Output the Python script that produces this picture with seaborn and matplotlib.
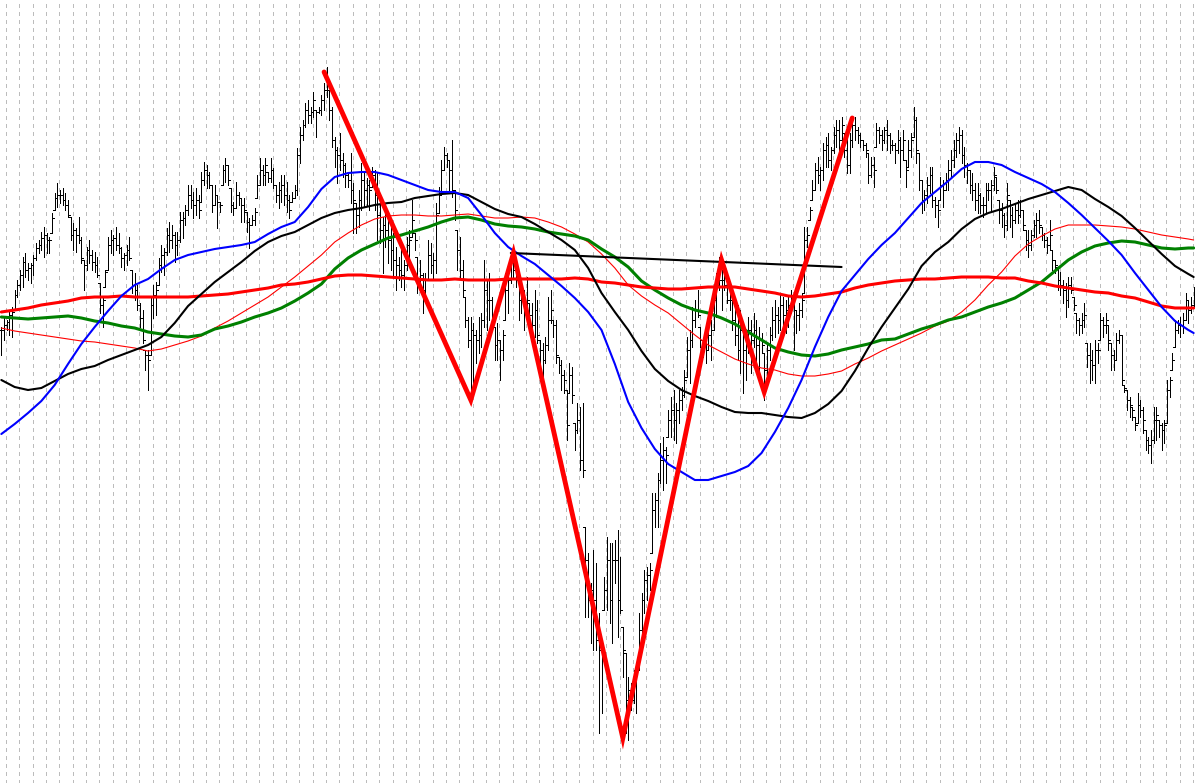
"""
Recreation of a trading-terminal style chart: OHLC bars, five moving
averages, a zigzag overlay and one hand-drawn trendline.
Prices are kept in screen units (0 = top of the chart), as read off the picture.
"""

import numpy as np
import pandas as pd
import matplotlib
matplotlib.use("Agg")
import matplotlib.pyplot as plt
import seaborn as sns

# ---------------------------------------------------------
# 1. Price bars: (high, low, close) per bar, left to right
# ---------------------------------------------------------
seg1 = [(327, 355, 330), (317, 340, 325), (320, 330, 322), (312, 335, 315), (307, 337, 312), (290, 310, 295),
        (280, 297, 285), (270, 290, 275), (257, 287, 262), (253, 277, 270), (263, 280, 268), (263, 283, 265),
        (255, 275, 258), (243, 260, 248), (240, 253, 245), (232, 250, 238), (227, 257, 235), (233, 253, 240),
        (237, 253, 240), (213, 233, 218), (193, 210, 198), (183, 207, 195), (190, 203, 195), (188, 205, 200),
        (193, 210, 205), (200, 217, 215), (217, 240, 235), (223, 250, 230), (228, 252, 235), (217, 243, 240),
        (237, 263, 258), (260, 290, 265), (247, 270, 250), (240, 263, 255), (250, 270, 262), (252, 272, 265),
        (257, 277, 275), (283, 313, 305), (297, 327, 300), (270, 287, 272), (237, 270, 245), (230, 253, 240),
        (235, 255, 238), (227, 250, 245), (233, 253, 248), (247, 267, 258), (253, 270, 255), (245, 265, 250),
        (237, 260, 258), (270, 293, 285), (273, 300, 290), (285, 310, 305), (303, 327, 318), (310, 343, 340),
        (350, 370, 355), (350, 390, 360)]
seg2 = [(298, 355, 305), (285, 318, 295), (282, 315, 290), (258, 285, 265), (245, 272, 255), (248, 275, 252),
        (228, 255, 235), (222, 252, 240), (225, 248, 235), (232, 262, 245), (232, 255, 240), (212, 242, 220),
        (212, 238, 218), (205, 225, 210), (185, 215, 195), (185, 208, 200), (192, 218, 205), (188, 215, 200),
        (195, 218, 210), (172, 202, 180), (162, 185, 170), (165, 188, 175), (172, 188, 185), (185, 212, 205),
        (185, 205, 195), (195, 228, 202), (202, 212, 205), (165, 185, 170), (158, 182, 165), (165, 185, 180),
        (188, 212, 205), (202, 215, 208), (182, 208, 195), (192, 205, 198), (198, 222, 205), (198, 222, 210),
        (212, 232, 222), (218, 248, 225), (215, 225, 220), (208, 225, 212), (175, 198, 185), (158, 185, 170),
        (165, 185, 175), (158, 185, 165), (172, 182, 178), (158, 182, 170), (168, 188, 185), (185, 202, 195),
        (182, 208, 190), (175, 202, 185), (175, 205, 195), (182, 212, 200), (195, 218, 210), (192, 202, 198),
        (185, 198, 190), (148, 195, 155)]
seg3 = [(127, 163, 135), (120, 140, 125), (103, 127, 110), (100, 123, 115), (107, 123, 112), (92, 117, 100),
        (110, 137, 112), (107, 113, 110), (95, 115, 100), (83, 110, 90), (67, 97, 85), (90, 120, 110),
        (107, 147, 140), (137, 167, 150), (147, 183, 155), (133, 170, 160), (153, 177, 165), (163, 187, 175),
        (173, 187, 180), (153, 203, 190), (183, 233, 200), (203, 233, 215), (190, 227, 200), (163, 210, 180),
        (173, 207, 190), (178, 205, 185), (180, 210, 190), (167, 187, 175), (170, 210, 195), (173, 240, 215),
        (200, 243, 230), (217, 273, 225), (203, 247, 230), (213, 263, 240), (220, 270, 250), (233, 277, 260),
        (247, 290, 265), (257, 280, 270), (250, 287, 275), (260, 290, 265), (237, 270, 245), (230, 267, 240),
        (200, 237, 220), (233, 250, 240), (257, 293, 280), (260, 290, 275), (273, 313, 290), (273, 297, 280),
        (240, 280, 255), (243, 273, 265), (253, 280, 260), (203, 273, 215), (187, 213, 195), (160, 193, 170),
        (147, 170, 155), (153, 167, 160)]
seg4 = [(160, 193, 170), (140, 197, 190), (190, 220, 210), (230, 270, 250), (237, 277, 270), (260, 297, 290),
        (297, 327, 320), (317, 347, 340), (317, 397, 330), (323, 383, 335), (330, 363, 340), (317, 353, 335),
        (313, 347, 320), (260, 327, 290), (280, 330, 300), (273, 320, 300), (297, 330, 320), (327, 360, 345),
        (323, 360, 340), (340, 380, 350), (330, 360, 335), (273, 320, 290), (270, 313, 280), (257, 283, 262),
        (253, 277, 270), (260, 287, 275), (280, 320, 300), (287, 313, 295), (290, 330, 310), (277, 323, 300),
        (303, 330, 315), (303, 343, 325), (290, 337, 310), (300, 343, 335), (340, 363, 350), (343, 387, 360),
        (337, 363, 345), (297, 350, 320), (290, 323, 310), (320, 337, 325), (320, 363, 355), (357, 373, 365),
        (360, 390, 375), (370, 393, 380), (390, 440, 425), (363, 393, 375), (367, 403, 395), (423, 450, 430),
        (403, 433, 420), (407, 470, 460)]
seg5 = [(403, 477, 470), (527, 617, 560), (553, 617, 600), (583, 643, 590), (550, 650, 600), (563, 650, 640),
        (613, 733, 650), (650, 713, 660), (577, 610, 590), (537, 610, 560), (543, 623, 600), (543, 643, 560),
        (540, 583, 560), (530, 637, 600), (557, 613, 610), (627, 677, 650), (653, 733, 700), (677, 740, 690),
        (683, 710, 700), (670, 703, 680), (663, 713, 670), (613, 670, 630), (593, 637, 600), (570, 613, 580),
        (567, 600, 575), (563, 590, 570), (493, 553, 510), (493, 527, 500), (473, 527, 480), (443, 483, 460),
        (437, 490, 450), (447, 483, 455), (410, 437, 420), (397, 437, 410), (390, 440, 420), (403, 443, 410),
        (390, 423, 400), (387, 410, 395), (370, 397, 380), (337, 377, 350), (330, 383, 340), (307, 347, 320),
        (300, 327, 310), (290, 317, 315), (327, 347, 340), (340, 357, 345), (343, 363, 350), (333, 350, 335),
        (320, 360, 330), (287, 330, 300), (273, 317, 285), (257, 290, 280), (270, 310, 280), (270, 290, 285),
        (283, 303, 300), (285, 310, 300), (295, 330, 320), (300, 345, 335), (305, 360, 350)]
seg6 = [(310, 373, 330), (327, 393, 350), (333, 380, 345), (317, 353, 330), (320, 373, 340), (313, 347, 330),
        (320, 367, 345), (327, 373, 340), (333, 353, 345), (353, 400, 370), (343, 377, 350), (327, 360, 335),
        (307, 340, 320), (300, 337, 315), (307, 333, 320), (293, 330, 305), (297, 327, 315), (300, 333, 310),
        (297, 327, 305), (290, 313, 300), (297, 350, 310), (310, 333, 315), (303, 330, 310), (293, 317, 300),
        (227, 293, 240), (227, 247, 235), (207, 220, 210), (180, 200, 190), (163, 190, 170), (157, 183, 175),
        (167, 190, 170), (143, 180, 150), (137, 167, 145), (133, 167, 160), (147, 170, 150), (127, 153, 135),
        (120, 147, 130), (120, 153, 140), (117, 147, 125), (133, 157, 150), (127, 173, 165), (133, 173, 140),
        (120, 147, 125), (117, 140, 130), (127, 143, 135), (133, 147, 140), (140, 150, 145), (143, 157, 150),
        (153, 183, 175), (157, 177, 165), (157, 187, 170), (123, 147, 130), (127, 143, 135), (130, 150, 140),
        (127, 143, 130), (120, 150, 135), (133, 153, 145), (140, 150, 145), (143, 163, 150), (130, 153, 140)]
seg7 = [(137, 177, 150), (130, 160, 140), (160, 187, 170), (140, 167, 150), (133, 157, 140), (107, 137, 120),
        (117, 163, 150), (153, 190, 180), (180, 213, 200), (190, 210, 195), (177, 203, 185), (167, 193, 175),
        (167, 207, 200), (197, 217, 205), (200, 227, 210), (177, 200, 185), (180, 207, 190), (173, 190, 180),
        (160, 190, 170), (150, 177, 160), (140, 167, 150), (133, 157, 140), (127, 153, 135), (130, 163, 155),
        (147, 177, 165), (163, 183, 170), (170, 193, 185), (173, 200, 190), (183, 210, 200), (183, 213, 195),
        (193, 213, 205), (197, 217, 205), (183, 213, 190), (183, 200, 190), (180, 210, 185), (167, 190, 175),
        (177, 193, 190), (200, 223, 210), (203, 227, 215), (213, 237, 225), (183, 230, 195), (200, 227, 215),
        (207, 237, 220), (203, 223, 210), (200, 223, 215), (200, 217, 210), (210, 230, 225), (230, 250, 240),
        (230, 257, 245), (230, 250, 235), (220, 237, 225), (213, 237, 220), (210, 233, 225), (227, 240, 235),
        (233, 247, 240), (237, 253, 245)]
seg8 = [(220, 250, 235), (250, 270, 260), (260, 273, 265), (267, 290, 280), (272, 295, 285), (280, 303, 290),
        (283, 317, 300), (277, 307, 285), (277, 293, 290), (297, 310, 305), (313, 333, 320), (318, 335, 325),
        (313, 333, 320), (303, 327, 315), (343, 367, 355), (343, 383, 360), (350, 380, 365), (340, 383, 350),
        (343, 363, 350), (313, 340, 320), (317, 337, 325), (313, 333, 320), (325, 350, 340), (343, 370, 355),
        (350, 370, 360), (333, 360, 340), (330, 343, 335), (335, 385, 380), (385, 392, 388), (390, 410, 400),
        (397, 417, 405), (407, 420, 410), (417, 430, 425), (393, 423, 405), (400, 417, 410), (407, 433, 420),
        (430, 450, 440), (437, 453, 445), (430, 463, 440), (407, 443, 420), (407, 440, 415), (420, 437, 425),
        (423, 450, 430), (420, 443, 425), (380, 423, 390), (377, 397, 380), (353, 370, 360), (320, 347, 330),
        (320, 333, 325), (317, 337, 325), (313, 333, 320), (293, 320, 300), (300, 323, 310), (297, 313, 305),
        (287, 307, 290)]

# ---------------------------------------------------------
# 2. Moving averages, read every 5 bars (last one on the final bar)
# ---------------------------------------------------------
ma_bar = list(range(0, 446, 5)) + [447]
ma_blue = [434, 424, 413, 401, 385, 364, 344, 327, 311, 296,
           285, 279, 269, 260, 255, 252, 249, 247, 245, 242,
           234, 227, 222, 207, 189, 177, 173, 172, 172, 175,
           180, 185, 190, 192, 192, 198, 215, 233, 247, 256,
           264, 275, 286, 298, 312, 330, 364, 402, 428, 449,
           464, 472, 480, 480, 476, 472, 466, 453, 432, 408,
           380, 347, 317, 291, 275, 259, 245, 233, 218, 203,
           192, 181, 169, 162, 162, 165, 172, 178, 184, 192,
           203, 215, 228, 241, 255, 273, 290, 307, 321, 330,
           333]
ma_black = [380, 387, 390, 388, 381, 374, 369, 366, 360, 355,
            350, 345, 337, 323, 306, 294, 282, 272, 262, 251,
            242, 236, 232, 225, 218, 213, 210, 208, 205, 203,
            202, 198, 196, 194, 193, 195, 202, 209, 214, 217,
            224, 232, 240, 250, 268, 293, 312, 330, 351, 369,
            381, 390, 396, 401, 407, 412, 413, 413, 415, 417,
            418, 413, 404, 391, 371, 348, 327, 308, 289, 266,
            252, 242, 229, 219, 213, 209, 204, 199, 195, 191,
            187, 190, 199, 207, 216, 228, 241, 254, 266, 274,
            277]
ma_green = [317, 318, 319, 318, 317, 316, 318, 321, 323, 326,
            328, 332, 334, 336, 337, 335, 329, 326, 322, 317,
            313, 308, 301, 293, 284, 269, 258, 250, 244, 238,
            235, 231, 227, 222, 218, 217, 220, 224, 226, 227,
            229, 232, 234, 236, 240, 249, 257, 267, 281, 290,
            298, 305, 310, 313, 318, 324, 332, 340, 348, 352,
            355, 356, 354, 350, 347, 344, 340, 339, 334, 329,
            325, 320, 317, 312, 307, 303, 298, 290, 282, 271,
            260, 252, 246, 243, 241, 242, 245, 248, 249, 248,
            248]
ma_red_slow = [312, 310, 308, 305, 303, 301, 298, 297, 297, 296,
               297, 297, 297, 297, 297, 296, 295, 294, 292, 290,
               288, 285, 284, 282, 279, 276, 275, 275, 276, 277,
               278, 279, 280, 280, 279, 280, 280, 280, 279, 279,
               279, 279, 279, 278, 279, 282, 283, 285, 287, 288,
               289, 289, 288, 287, 287, 287, 289, 291, 293, 296,
               297, 296, 294, 292, 288, 285, 283, 281, 280, 279,
               279, 278, 277, 277, 277, 278, 278, 281, 283, 286,
               288, 290, 292, 293, 296, 298, 302, 306, 308, 308,
               308]
ma_red_thin = [328, 331, 333, 335, 337, 339, 341, 342, 344, 346,
               348, 351, 349, 345, 341, 336, 328, 321, 313, 305,
               297, 287, 277, 266, 255, 242, 233, 225, 219, 216,
               215, 215, 216, 216, 215, 214, 216, 218, 218, 217,
               218, 222, 227, 234, 242, 254, 268, 285, 296, 305,
               313, 324, 335, 345, 352, 359, 364, 368, 370, 374,
               376, 376, 374, 371, 364, 358, 351, 345, 339, 333,
               326, 321, 312, 300, 285, 272, 256, 244, 236, 229,
               225, 225, 225, 226, 227, 229, 232, 235, 237, 239,
               240]

# ---------------------------------------------------------
# 3. Zigzag swing points and the trendline
# ---------------------------------------------------------
zz_bar = [121, 176, 192, 233, 270, 286, 319]
zz_price = [72, 400, 253, 738, 260, 392, 118]
tl_bar = [191, 315]
tl_price = [253, 267]

# ---------------------------------------------------------
# 4. Build the frame
# ---------------------------------------------------------
bars = pd.DataFrame(seg1 + seg2 + seg3 + seg4 + seg5 + seg6 + seg7 + seg8,
                    columns=['high', 'low', 'close'])
bars['bar'] = np.arange(len(bars))
# open of each bar = previous close, kept inside the bar's range
bars['open'] = np.clip(bars['close'].shift(1).fillna(bars['close']), bars['high'], bars['low'])
n = len(bars)

ma = pd.DataFrame({'bar': ma_bar, 'blue': ma_blue, 'black': ma_black, 'green': ma_green,
                   'red_slow': ma_red_slow, 'red_thin': ma_red_thin})

# ---------------------------------------------------------
# 5. Plot
# ---------------------------------------------------------
sns.set_style("white")
plt.rcParams['lines.scale_dashes'] = False

fig = plt.figure(figsize=(11.95, 7.83), dpi=100)
ax = fig.add_axes([0, 0, 1, 1])
ax.set_xlim(-0.5, n - 0.5)
ax.set_ylim(783, 0)

# dashed vertical separators every 5 bars
for gx in np.arange(1.75, n, 5):
    ax.axvline(gx, color='#bcbcbc', lw=0.72, linestyle=(0, (2.2, 2.9)), antialiased=False, zorder=0)

# OHLC bars
px = 72 / 100  # one pixel in points
ax.vlines(bars['bar'], bars['high'], bars['low'], color='black', lw=px, antialiased=False, zorder=2)
ax.hlines(bars['open'], bars['bar'] - 0.75, bars['bar'], color='black', lw=px, antialiased=False, zorder=2)
ax.hlines(bars['close'], bars['bar'], bars['bar'] + 0.75, color='black', lw=px, antialiased=False, zorder=2)

# moving averages
sns.lineplot(data=ma, x='bar', y='red_thin', color='#ff0000', lw=0.8, ax=ax, zorder=3)
sns.lineplot(data=ma, x='bar', y='green', color='#008000', lw=2.2, ax=ax, zorder=3)
sns.lineplot(data=ma, x='bar', y='red_slow', color='#ff0000', lw=2.2, ax=ax, zorder=3)
sns.lineplot(data=ma, x='bar', y='black', color='black', lw=1.5, ax=ax, zorder=3)
sns.lineplot(data=ma, x='bar', y='blue', color='#0000ff', lw=1.5, ax=ax, zorder=3)

# trendline and zigzag
sns.lineplot(x=tl_bar, y=tl_price, color='black', lw=1.5, ax=ax, zorder=4)
sns.lineplot(x=zz_bar, y=zz_price, color='#ff0000', lw=3.5, sort=False, ax=ax, zorder=5,
             solid_joinstyle='miter')

ax.set_xlabel('')
ax.set_ylabel('')
ax.set_xticks([])
ax.set_yticks([])
for side in ['top', 'left', 'bottom']:
    ax.spines[side].set_visible(False)
ax.spines['right'].set_color('black')
ax.spines['right'].set_linewidth(px)

fig.savefig('out.png', dpi=100)
plt.close()
